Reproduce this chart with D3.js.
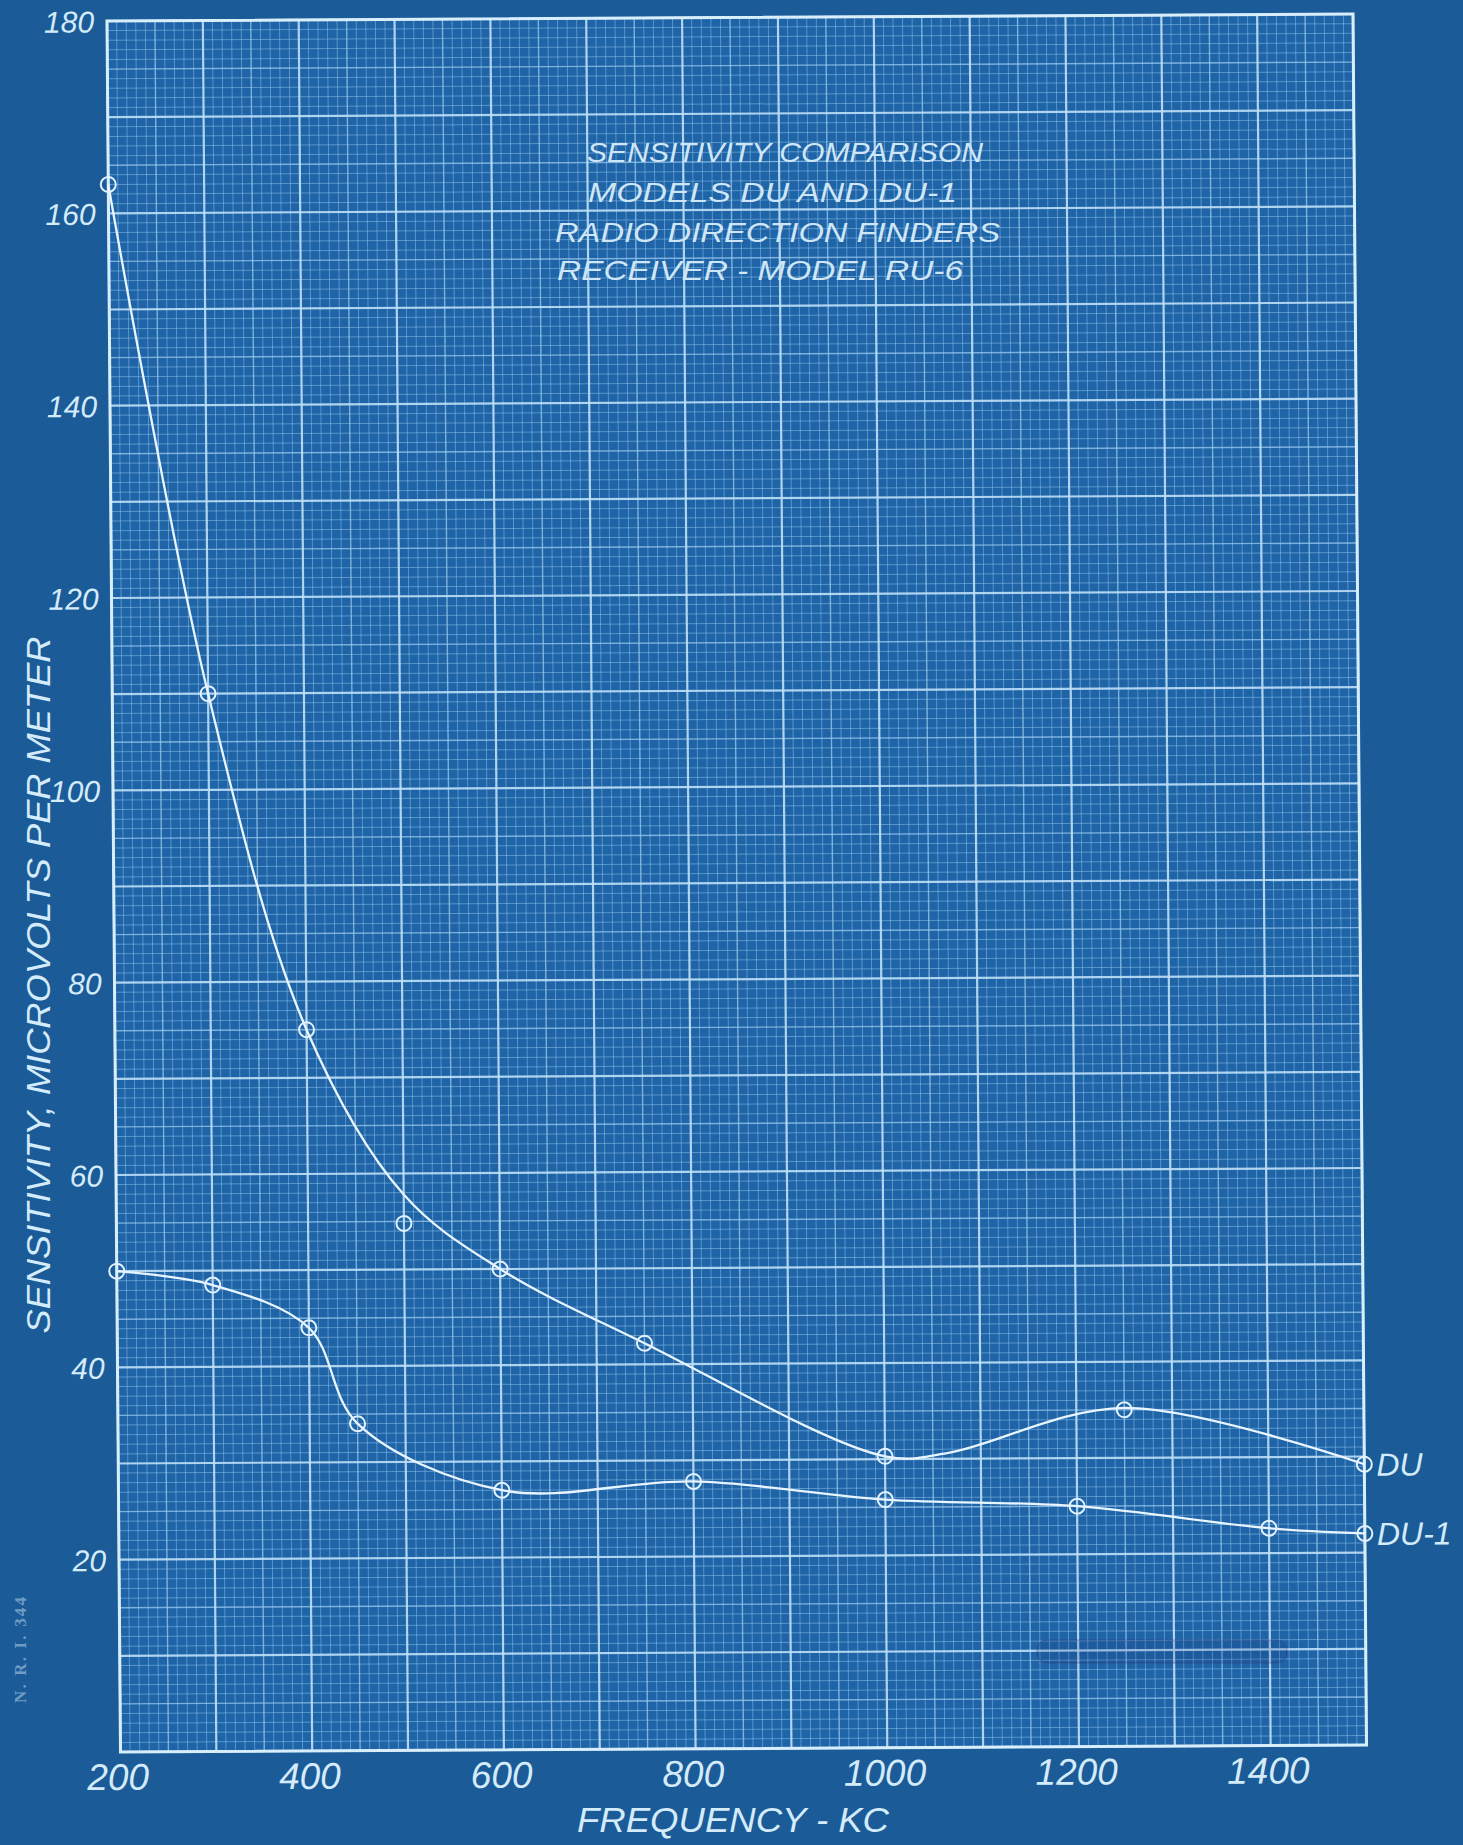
<!DOCTYPE html>
<html><head><meta charset="utf-8">
<script src="https://cdn.jsdelivr.net/npm/d3@7"></script>
<style>html,body{margin:0;padding:0;background:#1b5b98;} svg{display:block}</style>
</head><body><svg id="c" width="1463" height="1845"></svg>
<script>
// ---- data read from the blueprint ----
const xTicks = [200, 400, 600, 800, 1000, 1200, 1400];
const yTicks = [20, 40, 60, 80, 100, 120, 140, 160, 180];
// plotted observations (circles)
const duFreq  = [200, 300, 400, 500, 600, 750, 1000, 1250, 1500];
const duValue = [163, 110, 75, 54.8, 50, 42.2, 30.3, 35, 29.2];
// hand-drawn faired curve through DU
const duCurveFreq  = [200, 300, 400, 500, 600, 750, 1000, 1065, 1250, 1500];
const duCurveValue = [163, 110, 75, 57.8, 50, 42.2, 30.3, 30.6, 35.2, 29.2];
const du1Freq  = [200, 300, 400, 450, 600, 800, 1000, 1200, 1400, 1500];
const du1Value = [50, 48.5, 44, 34, 27, 27.8, 25.8, 25, 22.6, 22];
const seriesLabels = ["DU", "DU-1"];
const titleLines = ["SENSITIVITY COMPARISON", "MODELS DU AND DU-1", "RADIO DIRECTION FINDERS", "RECEIVER - MODEL RU-6"];
const xTitle = "FREQUENCY - KC";
const yTitle = "SENSITIVITY, MICROVOLTS PER METER";
const stampText = "N. R. I. 344";

// ---- layout ----
const W = 1246, H = 1731;
const svg = d3.select("#c");
const ink = "#d4ebfa";
const hand = "'Liberation Sans', Arial, sans-serif";

svg.append("rect").attr("width", 1463).attr("height", 1845).attr("fill", "#1b5b98");

const x = d3.scaleLinear().domain([200, 1500]).range([0, W]);
const y = d3.scaleLinear().domain([0, 180]).range([H, 0]);

// the paper is slightly skewed on the print
const g = svg.append("g").attr("transform", "matrix(1,-0.0056,0.0078,1,107,21)");

g.append("rect").attr("width", W).attr("height", H).attr("fill", "#1f64a6");

const grid = g.append("g");
const vVals = d3.range(200, 1501, 10);
const hVals = d3.range(0, 181, 1);
function lvl(v, step) { return v % (10 * step) === 0 ? 2 : (v % (5 * step) === 0 ? 1 : 0); }
const styles = [
  {c: "#86bde9", o: 0.55, w: 1},
  {c: "#9ccbf0", o: 0.75, w: 1.4},
  {c: "#bfe0f8", o: 0.9, w: 2.2}
];
[0, 1, 2].forEach(L => {
  grid.selectAll(null).data(vVals.filter(v => lvl(v, 10) === L)).join("line")
    .attr("x1", d => x(d)).attr("x2", d => x(d)).attr("y1", 0).attr("y2", H)
    .attr("stroke", styles[L].c).attr("stroke-opacity", styles[L].o).attr("stroke-width", styles[L].w);
  grid.selectAll(null).data(hVals.filter(v => lvl(v, 1) === L)).join("line")
    .attr("y1", d => y(d)).attr("y2", d => y(d)).attr("x1", 0).attr("x2", W)
    .attr("stroke", styles[L].c).attr("stroke-opacity", styles[L].o).attr("stroke-width", styles[L].w);
});
g.append("rect").attr("width", W).attr("height", H).attr("fill", "none")
  .attr("stroke", "#d8effb").attr("stroke-width", 3);

// axes (tick labels only, hand lettered)
const yAxis = d3.axisLeft(y).tickValues(yTicks).tickSize(0).tickPadding(13).tickFormat(d3.format("d"));
const yA = g.append("g").call(yAxis);
yA.select(".domain").remove();
yA.selectAll("text").attr("fill", ink).attr("font-family", hand).attr("font-style", "italic")
  .attr("font-size", 30).attr("dy", "0.36em");

const xAxis = d3.axisBottom(x).tickValues(xTicks).tickSize(0).tickPadding(12).tickFormat(d3.format("d"));
const xA = g.append("g").attr("transform", `translate(0,${H})`).call(xAxis);
xA.select(".domain").remove();
xA.selectAll("text").attr("fill", ink).attr("font-family", hand).attr("font-style", "italic")
  .attr("font-size", 37).attr("dy", "0.7em").attr("dx", -3);

// curves
const du = duFreq.map((f, i) => ({f, v: duValue[i]}));
const duCurve = duCurveFreq.map((f, i) => ({f, v: duCurveValue[i]}));
const du1 = du1Freq.map((f, i) => ({f, v: du1Value[i]}));
const line = d3.line().x(d => x(d.f)).y(d => y(d.v)).curve(d3.curveCatmullRom.alpha(0.5));

[duCurve, du1].forEach(s => {
  g.append("path").datum(s).attr("d", line).attr("fill", "none")
    .attr("stroke", "#e8f5ff").attr("stroke-width", 2.3);
});
[du, du1].forEach(s => {
  g.selectAll(null).data(s).join("circle")
    .attr("cx", d => x(d.f)).attr("cy", d => y(d.v)).attr("r", 7.5)
    .attr("fill", "none").attr("stroke", "#e2f2ff").attr("stroke-width", 2);
});

// series labels at line ends
[du, du1].forEach((s, i) => {
  const last = s[s.length - 1];
  g.append("text").attr("x", x(last.f) + 12).attr("y", y(last.v)).attr("dy", "0.36em")
    .attr("fill", ink).attr("font-family", hand).attr("font-style", "italic").attr("font-size", 32)
    .text(seriesLabels[i]);
});

// title block
const titleLayout = [[587, 162, 396], [588, 202, 369], [555, 242, 445], [557, 280, 406]];
titleLines.forEach((t, i) => {
  svg.append("text").attr("x", titleLayout[i][0]).attr("y", titleLayout[i][1])
    .attr("textLength", titleLayout[i][2]).attr("lengthAdjust", "spacingAndGlyphs")
    .attr("fill", "#cfe6f7").attr("font-family", hand).attr("font-style", "italic")
    .attr("font-size", 28).text(t);
});

// axis titles
svg.append("text").attr("transform", "translate(50,985) rotate(-90)")
  .attr("text-anchor", "middle").attr("textLength", 697).attr("lengthAdjust", "spacingAndGlyphs")
  .attr("fill", ink).attr("font-family", hand).attr("font-style", "italic").attr("font-size", 34)
  .text(yTitle);
svg.append("text").attr("x", 577).attr("y", 1832)
  .attr("textLength", 312).attr("lengthAdjust", "spacingAndGlyphs")
  .attr("fill", ink).attr("font-family", hand).attr("font-style", "italic").attr("font-size", 35)
  .text(xTitle);

// printer's stamp and smudge
svg.append("text").attr("transform", "translate(26,1650) rotate(-90)")
  .attr("text-anchor", "middle").attr("textLength", 106)
  .attr("fill", "#86afd2").attr("fill-opacity", 0.8)
  .attr("font-family", "'Liberation Serif', serif").attr("font-weight", "bold").attr("font-size", 17)
  .text(stampText);
svg.append("rect").attr("x", 1037).attr("y", 1640).attr("width", 250).attr("height", 23).attr("rx", 10)
  .attr("fill", "#1a2a70").attr("fill-opacity", 0.15).attr("stroke", "#3a2f70").attr("stroke-opacity", 0.4);
</script></body></html>
